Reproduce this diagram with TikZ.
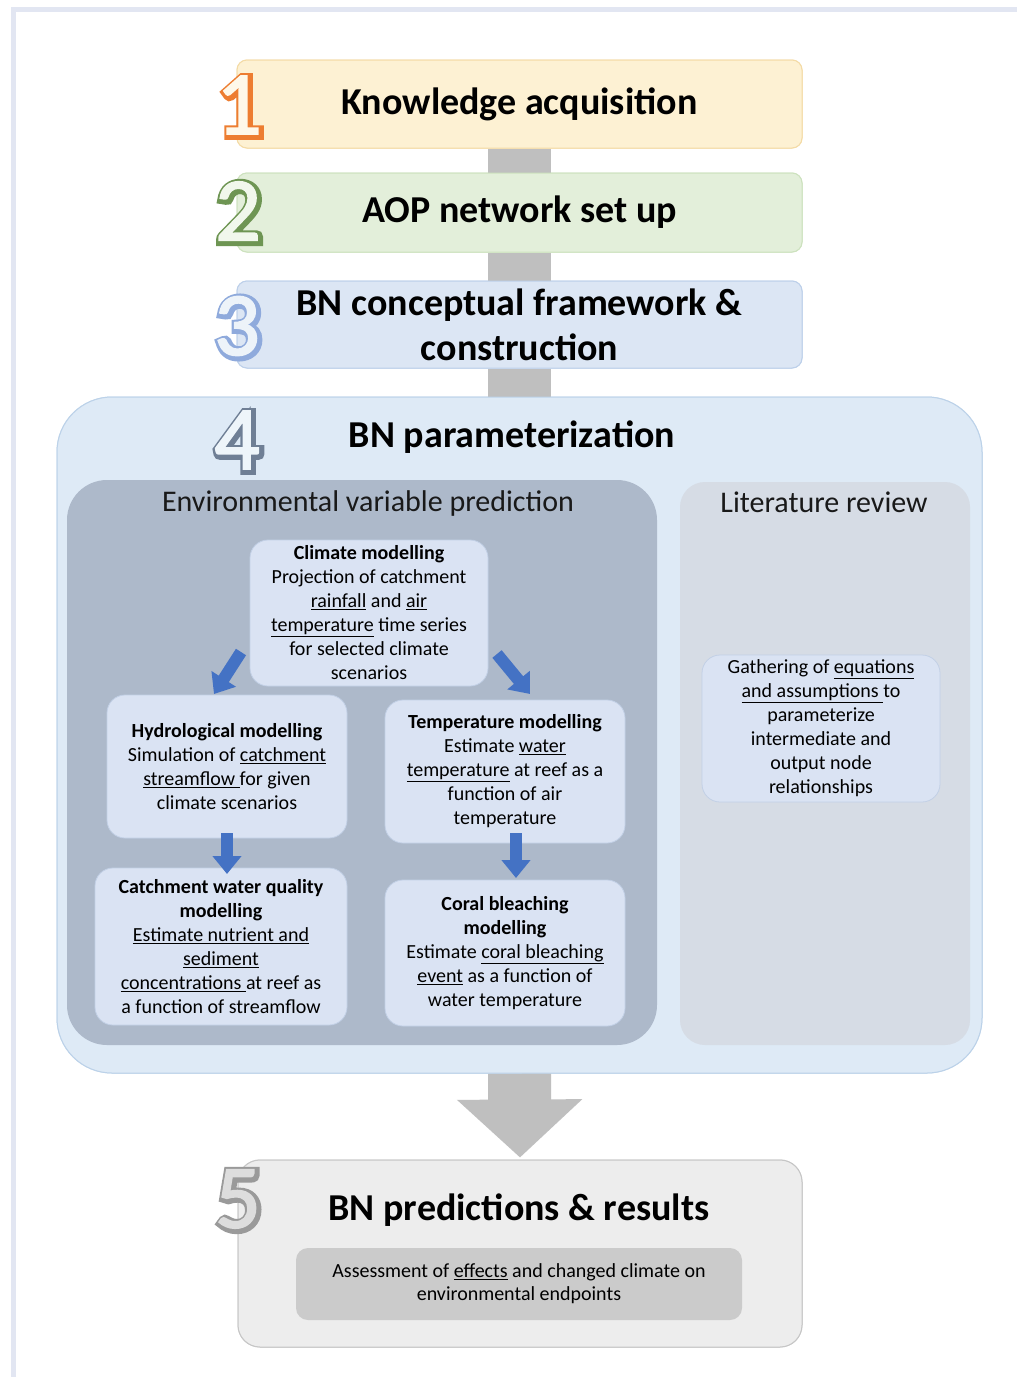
\documentclass[tikz,border=0pt]{standalone}
\usepackage{fontspec}
\setmainfont{Carlito}
\newfontfamily\digoutline[FakeBold=10]{Carlito}
\newfontfamily\digplain[FakeBold=2]{Carlito}
\usetikzlibrary{arrows.meta,calc}
\newcommand{\myul}[1]{\underline{#1}}
\definecolor{f1}{HTML}{FDF1D3}\definecolor{b1}{HTML}{F4DBA6}
\definecolor{f2}{HTML}{E3EFDA}\definecolor{b2}{HTML}{CDE2BE}
\definecolor{f3}{HTML}{DCE6F4}\definecolor{b3}{HTML}{BDD0EA}
\definecolor{f4}{HTML}{DEEAF6}\definecolor{b4}{HTML}{BCD2E9}
\definecolor{fenv}{HTML}{ADB9CA}
\definecolor{flit}{HTML}{D6DCE5}
\definecolor{fin}{HTML}{DAE3F3}\definecolor{bin}{HTML}{C2D0E6}
\definecolor{f5}{HTML}{EDEDED}\definecolor{b5}{HTML}{C6C6C6}
\definecolor{fin5}{HTML}{CBCBCB}
\definecolor{bar}{HTML}{BFBFBF}
\definecolor{barrow}{HTML}{4472C4}
\definecolor{frame}{HTML}{E2E6F2}
\definecolor{o1}{HTML}{ED7D31}\definecolor{o2}{HTML}{548235}
\definecolor{o3}{HTML}{8FAADC}\definecolor{o4}{HTML}{6F7F95}
\definecolor{o5}{HTML}{9A9A9A}
% outlined digit: #1 name, #2 position, #3 outline colour, #4 fill colour, #5 digit
\newcommand{\outdigit}[5]{%
  \node[digit, text=#3, font=\fontsize{90}{90}\digoutline] (#1o) at ($#2+(1.5,1.5)$) {#5};
  \node[digit, text=#4, font=\fontsize{90}{90}\digplain] (#1) at #2 {#5};}
\begin{document}
\begin{tikzpicture}[x=1pt,y=-1pt,
  stage/.style={draw=#1, line width=1pt, rounded corners=10pt, inner sep=0pt, align=center,
     font=\fontsize{38}{45}\selectfont\bfseries},
  sub/.style={fill=fin, draw=bin, line width=0.8pt, rounded corners=18pt, inner sep=0pt, align=center,
     font=\fontsize{20}{24}\selectfont},
  graybar/.style={draw=bar, line width=63pt},
  bluearrow/.style={draw=barrow, line width=12pt, -{Triangle[width=28pt,length=18pt]}},
  digit/.style={inner sep=0pt},
  sect/.style={font=\fontsize{30}{34}\selectfont, text=black!90}
]
\useasboundingbox (0,0) rectangle (1017,1377);
\fill[white] (0,0) rectangle (1017,1377);
\draw[frame, line width=5pt] (13.5,1377) -- (13.5,9.5) -- (1017,9.5);

% big boxes
\node[stage=b1, fill=f1, minimum width=565pt, minimum height=88pt] (k) at (519.5,104) {};
\node[stage=b2, fill=f2, minimum width=565pt, minimum height=79pt] (a) at (519.5,212.5) {};
\node[stage=b3, fill=f3, minimum width=565pt, minimum height=87pt] (c) at (519.5,324.5) {};
\node[draw=b4, fill=f4, line width=1pt, rounded corners=55pt, minimum width=925pt, minimum height=676pt] (p) at (519.5,735) {};
\node[draw=b5, fill=f5, line width=1pt, rounded corners=22pt, minimum width=564pt, minimum height=187pt] (r) at (520,1253.5) {};

% connectors (gray bars)
\draw[graybar] (k.south) -- (a.north);
\draw[graybar] (a.south) -- (c.north);
\draw[graybar] (c.south) -- (p.north);
\draw[draw=bar, line width=63pt, -{Triangle[width=122pt,length=58pt]}, shorten >=2pt] (p.south) -- (r.north);

% stage boxes with text, above bars
\node[stage=b1, fill=f1, minimum width=565pt, minimum height=88pt] (kt) at (k) {Knowledge acquisition};
\node[stage=b2, fill=f2, minimum width=565pt, minimum height=79pt] (at) at (a) {AOP network set up};
\node[stage=b3, fill=f3, minimum width=565pt, minimum height=87pt] (ct) at (c) {BN conceptual framework \&\\construction};
\node[draw=b4, fill=f4, line width=1pt, rounded corners=55pt, minimum width=925pt, minimum height=676pt] (pp) at (p) {};
\node[draw=b5, fill=f5, line width=1pt, rounded corners=22pt, minimum width=564pt, minimum height=187pt] (rr) at (r) {};

% stage 4 content
\node[font=\fontsize{38}{44}\selectfont\bfseries] (pt) at (512,437) {BN parameterization};
\node[fill=fenv, rounded corners=40pt, minimum width=590pt, minimum height=565pt] (env) at (362,762.5) {};
\node[fill=flit, rounded corners=25pt, minimum width=290pt, minimum height=563pt] (lit) at (825,763.5) {};
\node[sect] (envt) at (368,503) {Environmental variable prediction};
\node[sect] (litt) at (824,502) {Literature review};

\node[sub, minimum width=238pt, minimum height=147pt] (ga) at (821,728.5)
  {Gathering of \myul{equations}\\\myul{and assumptions }to\\parameterize\\intermediate and\\output node\\relationships};

\node[sub, minimum width=238pt, minimum height=146pt] (cl) at (369,613)
  {\textbf{Climate modelling}\\Projection of catchment\\\myul{rainfall} and \myul{air}\\\myul{temperature} time series\\for selected climate\\scenarios};
\node[sub, minimum width=240pt, minimum height=143pt] (hy) at (227,766.5)
  {\textbf{Hydrological modelling}\\Simulation of \myul{catchment}\\\myul{streamflow }for given\\climate scenarios};
\node[sub, minimum width=240pt, minimum height=143pt] (te) at (505,771.5)
  {\textbf{Temperature modelling}\\Estimate \myul{water}\\\myul{temperature} at reef as a\\function of air\\temperature};
\node[sub, minimum width=252pt, minimum height=157pt] (ca) at (221,946.5)
  {\textbf{Catchment water quality}\\\textbf{modelling}\\\myul{Estimate nutrient and}\\\myul{sediment}\\\myul{concentrations }at reef as\\a function of streamflow};
\node[sub, minimum width=240pt, minimum height=146pt] (co) at (505,953)
  {\textbf{Coral bleaching}\\\textbf{modelling}\\Estimate \myul{coral bleaching}\\\myul{event} as a function of\\water temperature};

% blue arrows
\coordinate (s1) at (241,652);
\coordinate (e1) at (214,694);
\coordinate (s2) at (497,654);
\coordinate (e2) at (530,694);
\coordinate (s3) at (227,833);
\coordinate (e3) at (227,874);
\coordinate (s4) at (516,833);
\coordinate (e4) at (516,878);
\draw[bluearrow] (s1) -- (e1);
\draw[bluearrow] (s2) -- (e2);
\draw[bluearrow] (s3) -- (e3);
\draw[bluearrow] (s4) -- (e4);

% stage 5 content
\node[font=\fontsize{38}{44}\selectfont\bfseries] (rt) at (519,1210) {BN predictions \& results};
\node[fill=fin5, rounded corners=12pt, minimum width=446pt, minimum height=72pt, align=center,
  font=\fontsize{20}{23}\selectfont] (rin) at (519,1284)
  {Assessment of \myul{effects} and changed climate on\\environmental endpoints};

% digits
\outdigit{d1}{(239,105)}{o1}{f1!50!white}{1}
\outdigit{d2}{(238,211)}{o2!85!white}{f2!50!white}{2}
\outdigit{d3}{(237,326)}{o3}{f3!50!white}{3}
\outdigit{d4}{(237,440)}{o4}{f4!50!white}{4}
\outdigit{d5}{(238,1199)}{o5}{f5!85!gray}{5}
\end{tikzpicture}
\end{document}
